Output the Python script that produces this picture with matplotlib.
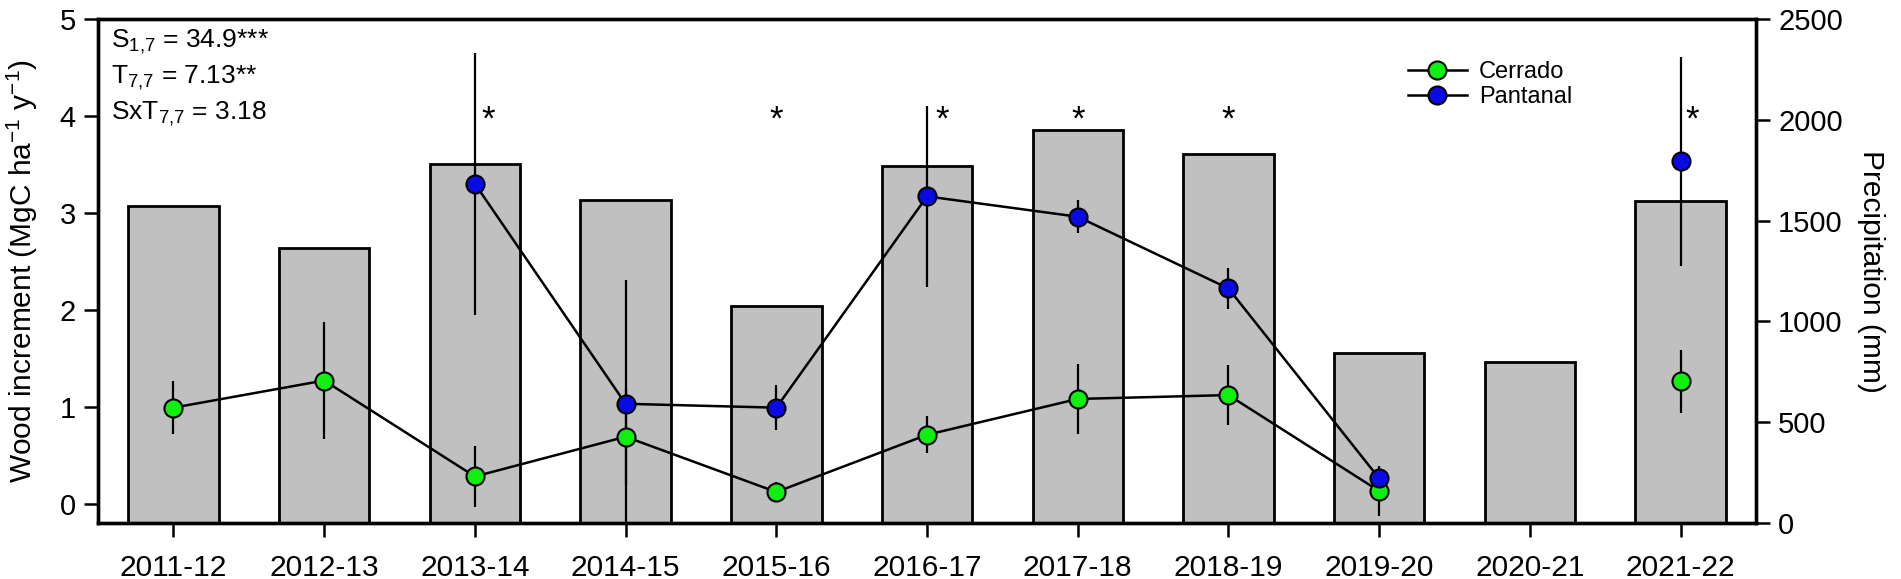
import numpy as np
import matplotlib
matplotlib.use('Agg')
import matplotlib.pyplot as plt

plt.rcParams['font.family'] = ['Liberation Sans', 'DejaVu Sans']
plt.rcParams['mathtext.fontset'] = 'custom'
plt.rcParams['mathtext.rm'] = 'Liberation Sans'
plt.rcParams['mathtext.it'] = 'Liberation Sans'

# data
seasons = ['2011-12', '2012-13', '2013-14', '2014-15', '2015-16', '2016-17',
           '2017-18', '2018-19', '2019-20', '2020-21', '2021-22']
precip = [1572, 1363, 1782, 1600, 1076, 1772, 1949, 1832, 843, 800, 1597]

cerrado = [0.99, 1.27, 0.28, 0.69, 0.12, 0.71, 1.08, 1.12, 0.13, np.nan, 1.26]
cerrado_err = [0.27, 0.60, 0.31, 0.50, 0.10, 0.19, 0.36, 0.31, 0.26, np.nan, 0.32]
pantanal = [np.nan, np.nan, 3.30, 1.03, 0.99, 3.17, 2.96, 2.22, 0.26, np.nan, 3.53]
pantanal_err = [np.nan, np.nan, 1.35, 1.28, 0.23, 0.93, 0.17, 0.21, 0.08, np.nan, 1.08]

star_idx = [2, 4, 5, 6, 7, 10]
star_shift = [0.09, 0.0, 0.1, 0.0, 0.0, 0.08]
star_y = 4.06

stats = [r'S$_{1{,}7}$ = 34.9***', r'T$_{7{,}7}$ = 7.13**', r'SxT$_{7{,}7}$ = 3.18']

x = np.arange(len(seasons))

fig = plt.figure(figsize=(19.01, 5.79), dpi=100)
ax = fig.add_axes([0.0516, 0.0967, 0.8721, 0.8705])
ax2 = ax.twinx()

# bars on the precipitation axis, drawn underneath
ax2.bar(x, precip, width=0.6, color='#c0c0c0', edgecolor='black', linewidth=2, zorder=1)
ax2.set_ylim(0, 2500)
ax2.set_yticks([0, 500, 1000, 1500, 2000, 2500])
ax2.set_ylabel('Precipitation (mm)', fontsize=21.5, rotation=270, labelpad=30)

ax.set_zorder(ax2.get_zorder() + 1)
ax.patch.set_visible(False)

ax.errorbar(x, cerrado, yerr=cerrado_err, fmt='none', ecolor='black', elinewidth=1.6, zorder=3)
ax.errorbar(x, pantanal, yerr=pantanal_err, fmt='none', ecolor='black', elinewidth=1.6, zorder=3)
ax.plot(x, cerrado, '-o', color='black', lw=1.8, ms=13, mfc='#10f010', mec='black',
        mew=1.5, zorder=4, label='Cerrado')
ax.plot(x, pantanal, '-o', color='black', lw=1.8, ms=13, mfc='#0a0ae6', mec='black',
        mew=1.5, zorder=5, label='Pantanal')

# significance stars: glyph centre sits ~0.58 em above the baseline
for i, dx in zip(star_idx, star_shift):
    ax.text(x[i] + dx, star_y - 0.2, '*', fontsize=25, ha='center', va='baseline', zorder=6)

for k, s in enumerate(stats):
    ax.text(0.0075, 0.955 - k * 0.072, s, transform=ax.transAxes, fontsize=19,
            ha='left', va='center')

ax.set_xlim(-0.5, 10.5)
ax.set_ylim(-0.2, 5)
ax.set_yticks([0, 1, 2, 3, 4, 5])
ax.set_xticks(x)
ax.set_xticklabels(seasons)
ax.set_ylabel('Wood increment (MgC ha$^{-1}$ y$^{-1}$)', fontsize=21.5, labelpad=14)

for a in (ax, ax2):
    a.tick_params(axis='both', direction='out', length=10, width=1.8, labelsize=21, pad=6)
    for sp in a.spines.values():
        sp.set_linewidth(2.4)
ax.tick_params(axis='x', labelsize=21.5, pad=12)

ax.legend(loc='center left', bbox_to_anchor=(0.79, 0.87), frameon=False, fontsize=17,
          handlelength=2.5, handletextpad=0.5, borderpad=0.0, borderaxespad=0.0,
          labelspacing=0.12)

fig.savefig('out.png', dpi=100)
